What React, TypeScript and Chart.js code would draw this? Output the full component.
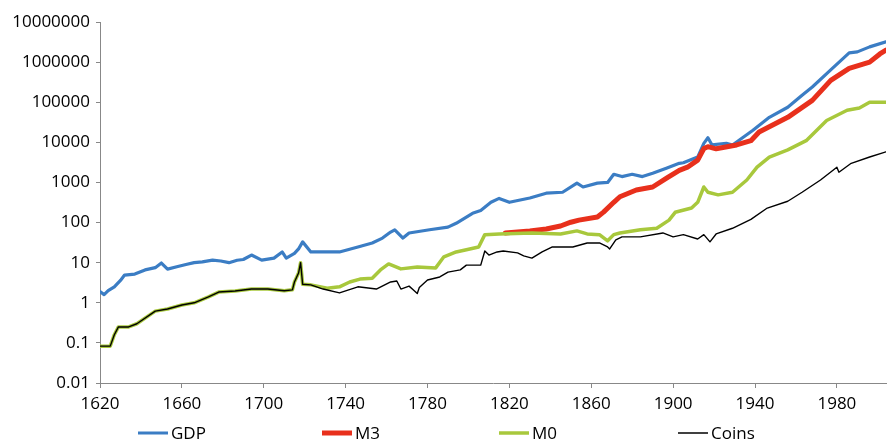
import React, { useEffect, useRef } from "react";
import { Chart, registerables } from "chart.js";

Chart.register(...registerables);

const xTicks = [1620, 1660, 1700, 1740, 1780, 1820, 1860, 1900, 1940, 1980];
const yTicks = [0.01, 0.1, 1, 10, 100, 1000, 10000, 100000, 1000000, 10000000];

const gdpYears = [1620, 1622, 1624, 1627, 1630, 1632, 1637, 1642, 1647, 1650, 1653, 1658, 1662, 1666, 1670, 1675, 1679, 1683, 1687, 1690, 1694, 1699, 1705, 1709, 1711, 1715, 1717, 1719, 1723, 1729, 1737, 1746, 1753, 1758, 1762, 1764, 1768, 1771, 1781, 1790, 1794, 1802, 1806, 1811, 1815, 1820, 1830, 1838, 1846, 1853, 1856, 1863, 1868, 1871, 1875, 1880, 1885, 1890, 1897, 1903, 1905, 1912, 1915, 1917, 1919, 1926, 1929, 1939, 1947, 1956, 1963, 1968, 1977, 1986, 1990, 1996, 2004];
const gdpValues = [1.9, 1.6, 2.0, 2.5, 3.6, 4.9, 5.2, 6.6, 7.5, 9.8, 6.9, 8, 9, 10, 10.5, 11.6, 11, 10, 11.5, 12, 15.5, 11.6, 13, 18.5, 13, 17, 22, 33, 18.5, 18.5, 18.5, 24.6, 31, 41, 58, 66, 41, 55, 66, 77, 96, 170, 200, 320, 400, 320, 410, 540, 570, 960, 770, 960, 1000, 1600, 1400, 1600, 1400, 1700, 2300, 3000, 3100, 4300, 9400, 13000, 8600, 9500, 8600, 20000, 42000, 75000, 150000, 240000, 640000, 1700000, 1800000, 2400000, 3200000];

const m3Years = [1818, 1830, 1838, 1845, 1850, 1854, 1863, 1866, 1871, 1874, 1882, 1890, 1897, 1903, 1907, 1912, 1915, 1917, 1921, 1931, 1938, 1942, 1956, 1968, 1977, 1986, 1996, 2001, 2004];
const m3Values = [55, 62, 69, 82, 102, 115, 138, 182, 320, 440, 650, 770, 1300, 2000, 2400, 3600, 7000, 7800, 6900, 8600, 11000, 18000, 42000, 111000, 350000, 700000, 1000000, 1600000, 2000000];

const m0Years = [1620, 1625, 1627, 1629, 1634, 1638, 1647, 1653, 1660, 1666, 1673, 1678, 1686, 1694, 1702, 1710, 1714, 1715, 1717, 1718, 1719, 1723, 1731, 1737, 1742, 1747, 1753, 1757, 1761, 1767, 1775, 1784, 1788, 1794, 1799, 1805, 1808, 1815, 1831, 1845, 1853, 1858, 1864, 1868, 1871, 1874, 1884, 1892, 1898, 1901, 1909, 1912, 1915, 1917, 1922, 1929, 1936, 1941, 1947, 1956, 1965, 1975, 1985, 1991, 1996, 2004];
const m0Values = [0.083, 0.083, 0.16, 0.25, 0.25, 0.3, 0.62, 0.7, 0.88, 1.0, 1.4, 1.85, 1.97, 2.2, 2.2, 2.0, 2.1, 3.3, 5.5, 10, 2.9, 2.8, 2.3, 2.5, 3.3, 3.9, 4.1, 6.6, 9.3, 7.0, 7.8, 7.4, 14, 18.5, 21, 24.6, 50, 52, 55, 52, 62, 52, 50, 35, 50, 55, 66, 72, 115, 180, 230, 320, 770, 570, 490, 570, 1150, 2400, 4300, 6500, 11000, 35000, 63000, 72000, 100000, 100000];

const coinYears = [1620, 1625, 1627, 1629, 1634, 1638, 1647, 1653, 1660, 1666, 1673, 1678, 1686, 1694, 1702, 1710, 1714, 1715, 1717, 1718, 1719, 1723, 1729, 1737, 1746, 1755, 1762, 1765, 1767, 1771, 1773, 1775, 1776, 1780, 1786, 1790, 1796, 1799, 1806, 1808, 1810, 1814, 1817, 1824, 1827, 1831, 1836, 1841, 1851, 1858, 1864, 1868, 1869, 1872, 1875, 1884, 1895, 1900, 1905, 1912, 1915, 1918, 1921, 1929, 1938, 1946, 1956, 1963, 1972, 1980, 1981, 1987, 1996, 2004];
const coinValues = [0.083, 0.083, 0.16, 0.25, 0.25, 0.3, 0.62, 0.7, 0.88, 1.0, 1.4, 1.85, 1.97, 2.2, 2.2, 2.0, 2.1, 3.3, 5.5, 10, 2.9, 2.8, 2.2, 1.76, 2.5, 2.2, 3.3, 3.5, 2.2, 2.6, 2.1, 1.7, 2.4, 3.7, 4.4, 5.8, 6.6, 8.7, 8.7, 19.5, 15.5, 18.5, 19.5, 17.5, 14.8, 13, 18.5, 24.6, 24.6, 31, 31, 24.6, 22, 37, 44, 44, 55, 44, 50, 39, 50, 33, 52, 72, 120, 230, 340, 570, 1150, 2400, 1800, 3000, 4300, 5800];

const FONT = "'Open Sans', sans-serif";

const pts = (xs: number[], ys: number[]) => xs.map((x, i) => ({ x, y: ys[i] }));

const legendStarts = [138, 322, 499, 678];

const legendPlugin = {
  id: "customLegend",
  afterDraw(chart: any) {
    const ctx = chart.ctx;
    const y = 433;
    ctx.save();
    ctx.font = `17px ${FONT}`;
    ctx.textBaseline = "middle";
    ctx.textAlign = "left";
    chart.data.datasets.forEach((ds: any, i: number) => {
      const x0 = legendStarts[i];
      ctx.strokeStyle = ds.borderColor;
      ctx.lineWidth = ds.legendWidth;
      ctx.beginPath();
      ctx.moveTo(x0, y);
      ctx.lineTo(x0 + 30, y);
      ctx.stroke();
      ctx.fillStyle = "#000";
      ctx.fillText(ds.label, x0 + 33, y + 1);
    });
    ctx.restore();
  },
};

export default function App() {
  const ref = useRef<HTMLCanvasElement>(null);
  useEffect(() => {
    if (!ref.current) return;
    const chart = new Chart(ref.current, {
      type: "line",
      data: {
        datasets: [
          { label: "GDP", data: pts(gdpYears, gdpValues), borderColor: "#3B7DC4", borderWidth: 3.2, legendWidth: 3, order: 3 } as any,
          { label: "M3", data: pts(m3Years, m3Values), borderColor: "#E8301C", borderWidth: 5, legendWidth: 5, order: 2 } as any,
          { label: "M0", data: pts(m0Years, m0Values), borderColor: "#A8C83C", borderWidth: 3.5, legendWidth: 3.5, order: 1 } as any,
          { label: "Coins", data: pts(coinYears, coinValues), borderColor: "#000000", borderWidth: 1.4, legendWidth: 1.5, order: 0 } as any,
        ],
      },
      options: {
        animation: false,
        responsive: false,
        devicePixelRatio: 1,
        layout: { padding: { top: 22, right: 1, bottom: 30, left: 0 } },
        elements: { point: { radius: 0 }, line: { tension: 0, borderJoinStyle: "round", borderCapStyle: "round" } },
        plugins: { legend: { display: false }, tooltip: { enabled: false } },
        scales: {
          x: {
            type: "linear",
            min: 1620,
            max: 2004,
            afterBuildTicks: (s: any) => { s.ticks = xTicks.map((v) => ({ value: v })); },
            afterFit: (s: any) => { s.height = 28; },
            ticks: { callback: (v: any) => String(v), color: "#000", font: { family: FONT, size: 17 }, padding: 6, maxRotation: 0, autoSkip: false },
            grid: { drawOnChartArea: false, tickLength: 5, color: "#888" },
            border: { color: "#888", width: 1 },
          },
          y: {
            type: "logarithmic",
            min: 0.01,
            max: 10000000,
            afterBuildTicks: (s: any) => { s.ticks = yTicks.map((v) => ({ value: v })); },
            afterFit: (s: any) => { s.width = 100; },
            ticks: { callback: (v: any) => String(v), color: "#000", font: { family: FONT, size: 17 }, padding: 6, autoSkip: false },
            grid: { drawOnChartArea: false, tickLength: 4, color: "#888" },
            border: { color: "#888", width: 1 },
          },
        },
      } as any,
      plugins: [legendPlugin],
    });
    return () => chart.destroy();
  }, []);
  return (
    <div style={{ position: "fixed", left: 0, top: 0, width: 887, height: 441, background: "#fff" }}>
      <canvas ref={ref} width={887} height={441} style={{ width: 887, height: 441 }} />
    </div>
  );
}
